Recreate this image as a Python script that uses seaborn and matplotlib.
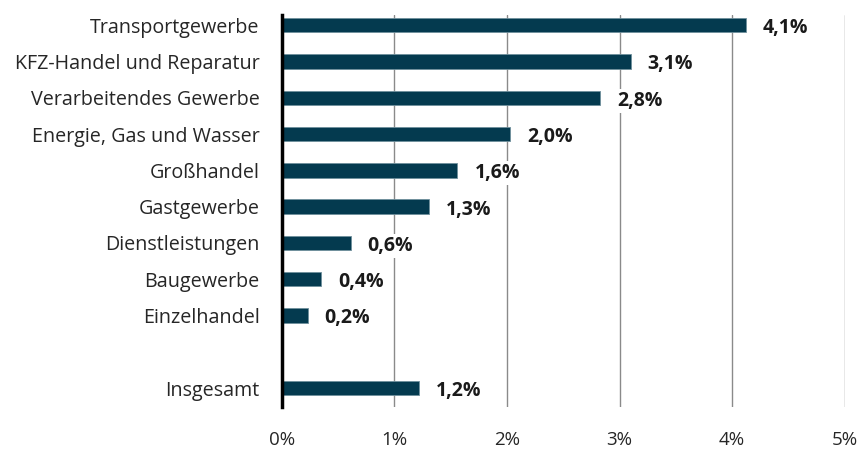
import numpy as np
import pandas as pd
import matplotlib
matplotlib.use("Agg")
import matplotlib.pyplot as plt
import seaborn as sns

# data
categories = ["Transportgewerbe", "KFZ-Handel und Reparatur", "Verarbeitendes Gewerbe",
              "Energie, Gas und Wasser", "Großhandel", "Gastgewerbe", "Dienstleistungen",
              "Baugewerbe", "Einzelhandel", "Insgesamt"]
values = [4.12, 3.10, 2.83, 2.03, 1.56, 1.31, 0.61, 0.35, 0.23, 1.22]
value_labels = ["4,1%", "3,1%", "2,8%", "2,0%", "1,6%", "1,3%", "0,6%", "0,4%", "0,2%", "1,2%"]
x_ticks = [0, 1, 2, 3, 4, 5]
x_tick_labels = ["0%", "1%", "2%", "3%", "4%", "5%"]

bar_color = "#043a4f"
gap = " "  # empty slot between Einzelhandel and Insgesamt
order = categories[:-1] + [gap] + categories[-1:]

df = pd.DataFrame({"branche": categories, "wert": values})

sns.set_style("white")
plt.rcParams["font.family"] = ["Open Sans", "DejaVu Sans"]

fig = plt.figure(figsize=(8.62, 4.5), dpi=100)
ax = fig.add_axes([0.327, 0.0956, 0.653, 0.871])

sns.barplot(data=df, x="wert", y="branche", order=order, orient="h",
            color=bar_color, width=0.4, saturation=1, ax=ax,
            edgecolor="#6f8f9c", linewidth=0.6, zorder=3)

ax.set_xlim(0, 5)
ax.set_ylim(10.52, -0.28)
ax.set_xticks(x_ticks)
ax.set_xticklabels(x_tick_labels, fontsize=13.5)
ax.set_yticks(range(len(order)))
ax.set_yticklabels(order, fontsize=14.2)
ax.tick_params(axis="x", length=0, pad=17)
ax.tick_params(axis="y", length=0, pad=16)
ax.set_xlabel("")
ax.set_ylabel("")

ax.xaxis.grid(True, color="#8a8a8a", linewidth=1.0, zorder=0)
ax.yaxis.grid(False)
ax.set_axisbelow(True)
for side in ["top", "right", "bottom"]:
    ax.spines[side].set_visible(False)
ax.spines["left"].set_color("black")
ax.spines["left"].set_linewidth(2.5)
ax.spines["left"].set_zorder(5)

# value labels with white background (they cut the gridlines)
for cat, v, lab in zip(categories, values, value_labels):
    y = order.index(cat)
    ax.text(v + 0.15, y + 0.08, lab, ha="left", va="center", fontsize=14,
            fontweight="bold", color="#1a1a1a", zorder=4,
            bbox=dict(facecolor="white", edgecolor="none", pad=1.5))

fig.savefig("out.png", dpi=100)
